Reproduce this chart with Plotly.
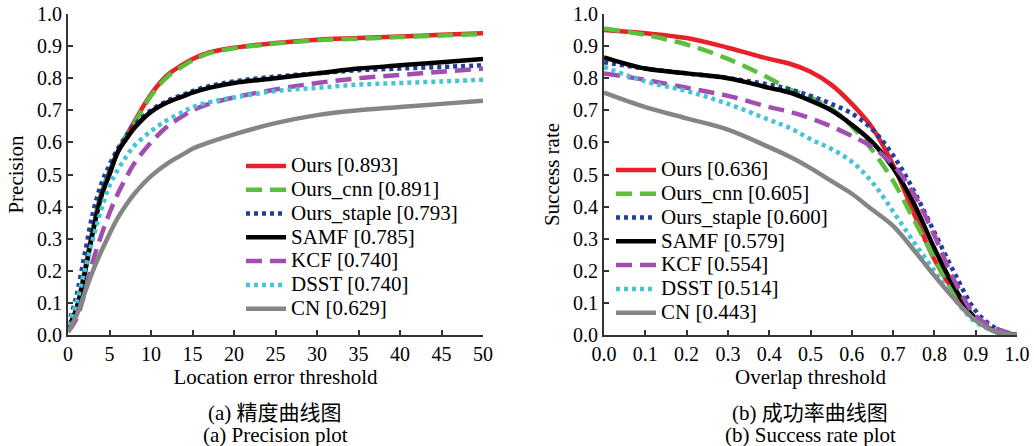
import plotly.graph_objects as go

# ---------------- data ----------------
names_a = ["Ours [0.893]", "Ours_cnn [0.891]", "Ours_staple [0.793]", "SAMF [0.785]",
           "KCF [0.740]", "DSST [0.740]", "CN [0.629]"]
names_b = ["Ours [0.636]", "Ours_cnn [0.605]", "Ours_staple [0.600]", "SAMF [0.579]",
           "KCF [0.554]", "DSST [0.514]", "CN [0.443]"]

x_a = [0, 1, 2, 3, 4, 5, 6, 7, 8, 10, 12, 14, 15, 17, 20, 25, 30, 35, 40, 45, 50]
ours_a   = [0.02, 0.08, 0.20, 0.33, 0.44, 0.51, 0.57, 0.62, 0.665, 0.75, 0.81, 0.845, 0.86, 0.88, 0.895, 0.91, 0.92, 0.925, 0.93, 0.935, 0.94]
cnn_a    = [0.02, 0.08, 0.20, 0.33, 0.44, 0.51, 0.57, 0.62, 0.66, 0.745, 0.805, 0.84, 0.855, 0.878, 0.893, 0.908, 0.918, 0.923, 0.928, 0.933, 0.938]
staple_a = [0.03, 0.12, 0.25, 0.38, 0.47, 0.53, 0.58, 0.62, 0.655, 0.70, 0.73, 0.75, 0.76, 0.775, 0.79, 0.805, 0.815, 0.825, 0.83, 0.835, 0.84]
samf_a   = [0.02, 0.08, 0.19, 0.32, 0.43, 0.50, 0.57, 0.61, 0.645, 0.695, 0.725, 0.745, 0.755, 0.77, 0.785, 0.80, 0.815, 0.83, 0.84, 0.85, 0.86]
kcf_a    = [0.01, 0.05, 0.13, 0.23, 0.31, 0.38, 0.44, 0.49, 0.535, 0.60, 0.65, 0.685, 0.70, 0.72, 0.74, 0.765, 0.785, 0.80, 0.81, 0.82, 0.83]
dsst_a   = [0.03, 0.10, 0.20, 0.30, 0.39, 0.465, 0.515, 0.555, 0.59, 0.635, 0.67, 0.697, 0.71, 0.725, 0.74, 0.76, 0.77, 0.78, 0.785, 0.79, 0.795]
cn_a     = [0.01, 0.06, 0.13, 0.20, 0.26, 0.315, 0.365, 0.405, 0.44, 0.495, 0.535, 0.565, 0.58, 0.60, 0.625, 0.66, 0.685, 0.70, 0.71, 0.72, 0.73]

x_b = [0.0, 0.1, 0.2, 0.3, 0.4, 0.45, 0.5, 0.55, 0.6, 0.65, 0.7, 0.75, 0.8, 0.85, 0.9, 0.95, 1.0]
ours_b   = [0.95, 0.94, 0.925, 0.895, 0.86, 0.845, 0.82, 0.78, 0.72, 0.645, 0.53, 0.38, 0.235, 0.13, 0.05, 0.01, 0.0]
cnn_b    = [0.955, 0.935, 0.905, 0.86, 0.80, 0.765, 0.74, 0.705, 0.65, 0.575, 0.48, 0.36, 0.24, 0.13, 0.05, 0.01, 0.0]
staple_b = [0.85, 0.83, 0.815, 0.80, 0.78, 0.765, 0.745, 0.72, 0.69, 0.64, 0.56, 0.45, 0.32, 0.19, 0.075, 0.02, 0.0]
samf_b   = [0.865, 0.83, 0.815, 0.80, 0.77, 0.755, 0.73, 0.70, 0.655, 0.60, 0.52, 0.41, 0.27, 0.145, 0.05, 0.01, 0.0]
kcf_b    = [0.815, 0.795, 0.77, 0.745, 0.71, 0.695, 0.675, 0.65, 0.62, 0.585, 0.53, 0.44, 0.31, 0.165, 0.06, 0.02, 0.0]
dsst_b   = [0.835, 0.79, 0.76, 0.72, 0.67, 0.645, 0.61, 0.58, 0.54, 0.475, 0.385, 0.29, 0.20, 0.11, 0.04, 0.01, 0.0]
cn_b     = [0.755, 0.71, 0.675, 0.64, 0.585, 0.555, 0.52, 0.48, 0.44, 0.39, 0.34, 0.265, 0.185, 0.11, 0.045, 0.01, 0.0]

x_ticks_a = [0, 5, 10, 15, 20, 25, 30, 35, 40, 45, 50]
x_ticks_b = [0.0, 0.1, 0.2, 0.3, 0.4, 0.5, 0.6, 0.7, 0.8, 0.9, 1.0]
y_ticks = [0.0, 0.1, 0.2, 0.3, 0.4, 0.5, 0.6, 0.7, 0.8, 0.9, 1.0]

colors = ["#e8202a", "#5cbf3b", "#1f3fa0", "#000000", "#a24db0", "#44c4d4", "#858585"]
dashes = ["solid", "16px,8px", "4px,4px", "solid", "16px,8px", "4px,4px", "solid"]

series_a = [ours_a, cnn_a, staple_a, samf_a, kcf_a, dsst_a, cn_a]
series_b = [ours_b, cnn_b, staple_b, samf_b, kcf_b, dsst_b, cn_b]

FONT = "Liberation Serif, Times New Roman, Noto Sans CJK SC, serif"
LEG_FS = 21

def leg_name(s):
    return ('<span style="font-family:\'Liberation Serif\', serif;font-size:%dpx">%s</span>'
            % (LEG_FS, s))

fig = go.Figure()
for i in range(7):
    fig.add_trace(go.Scatter(x=x_a, y=series_a[i], mode="lines", name=leg_name(names_a[i]),
                             line=dict(color=colors[i], width=4.5, dash=dashes[i], shape="spline"),
                             xaxis="x", yaxis="y", legend="legend"))
for i in range(7):
    fig.add_trace(go.Scatter(x=x_b, y=series_b[i], mode="lines", name=leg_name(names_b[i]),
                             line=dict(color=colors[i], width=4.5, dash=dashes[i], shape="spline"),
                             xaxis="x2", yaxis="y2", legend="legend2"))

W, H = 1034, 446
def px(x):
    return x / W
def py(y):
    return (H - y) / H

axis_common = dict(showline=True, linecolor="#333333", linewidth=2, ticks="inside",
                   ticklen=5, tickcolor="#333333", tickwidth=1.5, showgrid=False, zeroline=False,
                   tickfont=dict(family=FONT, size=20, color="black"), mirror=False,
                   automargin=False)
title_font = dict(family=FONT, size=21, color="black")

fig.update_layout(
    width=W, height=H, margin=dict(l=0, r=0, t=0, b=0, autoexpand=False),
    paper_bgcolor="white", plot_bgcolor="white", font=dict(family=FONT, color="black"),
    xaxis=dict(domain=[px(68), px(483)], range=[0, 50], tickvals=x_ticks_a,
               ticktext=[str(v) for v in x_ticks_a], anchor="y",
               title=dict(text="Location error threshold", font=title_font, standoff=5),
               **axis_common),
    yaxis=dict(domain=[py(335), py(14)], range=[0, 1], tickvals=y_ticks,
               ticktext=["%.1f" % v for v in y_ticks], anchor="x",
               title=dict(text="Precision", font=title_font, standoff=8),
               **axis_common),
    xaxis2=dict(domain=[px(604), px(1017)], range=[0, 1], tickvals=x_ticks_b,
                ticktext=["%.1f" % v for v in x_ticks_b], anchor="y2",
                title=dict(text="Overlap threshold", font=title_font, standoff=5),
                **axis_common),
    yaxis2=dict(domain=[py(335), py(14)], range=[0, 1], tickvals=y_ticks,
                ticktext=["%.1f" % v for v in y_ticks], anchor="x2",
                title=dict(text="Success rate", font=title_font, standoff=8),
                **axis_common),
    legend=dict(x=px(241), y=py(149), xanchor="left", yanchor="top",
                bgcolor="rgba(255,255,255,0.85)", borderwidth=0,
                font=dict(family=FONT, size=16, color="black"), tracegroupgap=0,
                itemwidth=40),
    legend2=dict(x=px(611), y=py(153), xanchor="left", yanchor="top",
                 bgcolor="rgba(255,255,255,0)", borderwidth=0,
                 font=dict(family=FONT, size=16, color="black"), tracegroupgap=0,
                 itemwidth=40),
    showlegend=True,
)

captions = [
    (275, 413, "(a) 精度曲线图"),
    (275, 435, "(a) Precision plot"),
    (810, 413, "(b) 成功率曲线图"),
    (810, 435, "(b) Success rate plot"),
]
for cx, cy, t in captions:
    fig.add_annotation(x=px(cx), y=py(cy), xref="paper", yref="paper", text=t,
                       showarrow=False, xanchor="center", yanchor="middle",
                       font=dict(family=FONT, size=21, color="black"))

fig.write_html("out.html")
